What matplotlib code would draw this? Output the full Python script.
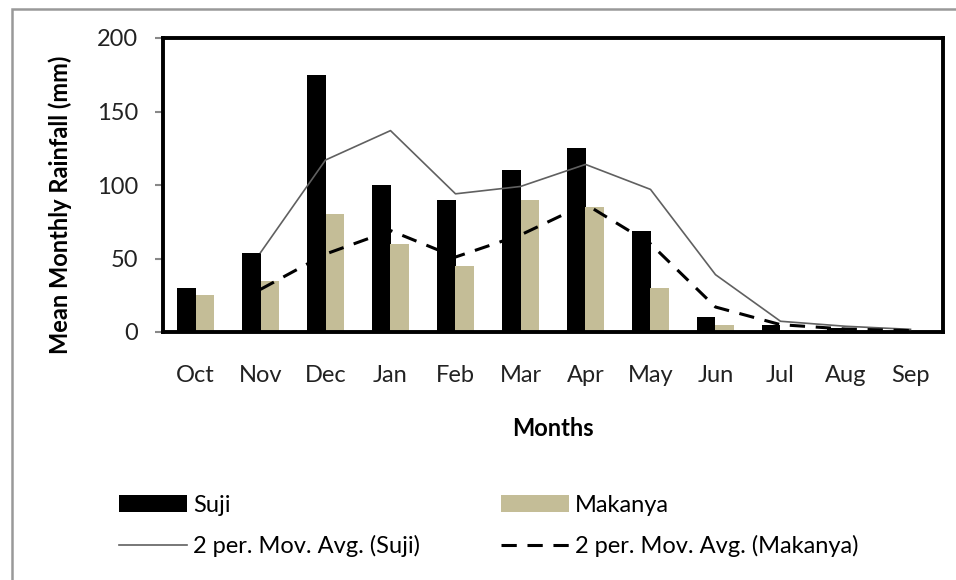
import matplotlib
matplotlib.use("Agg")
import matplotlib.pyplot as plt
import numpy as np
from matplotlib.patches import Rectangle

plt.rcParams['font.family'] = ['Lato', 'DejaVu Sans']

months = ["Oct", "Nov", "Dec", "Jan", "Feb", "Mar", "Apr", "May", "Jun", "Jul", "Aug", "Sep"]
suji = [30, 54, 175, 100, 90, 110, 125, 69, 10, 4.5, 2.5, 1]
makanya = [25, 35, 80, 60, 45, 90, 85, 30, 4.5, 1.5, 0.5, 0.2]
# 2-period moving averages (start at Nov)
suji_ma = [54, 117, 137, 94, 99, 114, 97, 39, 7.3, 3.9, 1.8]
makanya_ma = [29, 53, 69, 51, 66, 87, 60, 17, 5, 2, 1]

FS = 17

fig = plt.figure(figsize=(9.56, 5.8), dpi=100)
ax = fig.add_axes([163 / 956, 1 - 332 / 580, 780 / 956, 294 / 580])

x = np.arange(len(months))
w = 0.29
b1 = ax.bar(x - w / 2, suji, w, color="black", label="Suji", zorder=2)
b2 = ax.bar(x + w / 2, makanya, w, color="#C4BD97", label="Makanya", zorder=2)
l1, = ax.plot(x[1:], suji_ma, color="#606060", lw=1.2, zorder=3)
l2, = ax.plot(x[1:], makanya_ma, color="black", lw=2.2, ls=(0, (5, 3.5)), zorder=3)

ax.set_xlim(-0.5, len(months) - 0.5)
ax.set_ylim(0, 200)
ax.set_yticks([0, 50, 100, 150, 200])
ax.set_xticks(x)
ax.set_xticklabels(months)
ax.tick_params(axis="x", length=0, pad=24, labelsize=FS, labelcolor="#222222")
ax.tick_params(axis="y", length=6, width=1.5, color="#888888", pad=12,
               labelsize=FS, labelcolor="#222222")
for s in ax.spines.values():
    s.set_linewidth(2.8)
    s.set_color("black")

fig.text(553 / 956, 1 - 429 / 580, "Months", ha="center", va="center",
         fontsize=FS, fontweight="bold")
fig.text(60 / 956, 1 - 205 / 580, "Mean Monthly Rainfall (mm)", ha="center", va="center",
         rotation=90, fontsize=FS, fontweight="bold")

leg_kw = dict(loc="center left", frameon=False, fontsize=FS, handlelength=2.9,
              handletextpad=0.25, labelspacing=0.8, handleheight=0.72,
              borderpad=0, borderaxespad=0)
leg1 = fig.legend([b1, l1], ["Suji", "2 per. Mov. Avg. (Suji)"],
                  bbox_to_anchor=(119 / 956, 1 - 526 / 580), **leg_kw)
fig.legend([b2, l2], ["Makanya", "2 per. Mov. Avg. (Makanya)"],
           bbox_to_anchor=(501 / 956, 1 - 526 / 580), **leg_kw)

# outer chart border
fig.patches.append(Rectangle((12 / 956, -0.01), 1.0, 1 - 9 / 580 + 0.01,
                             transform=fig.transFigure, fill=False,
                             edgecolor="#999999", lw=1.8))

fig.savefig("out.png", dpi=100)
